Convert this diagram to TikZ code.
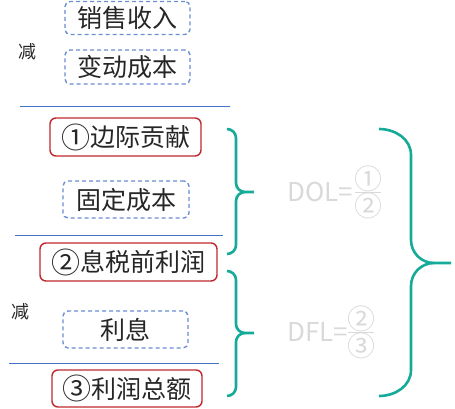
\documentclass[tikz,border=0pt]{standalone}
\usepackage{fontspec}
\setmainfont{Noto Sans CJK SC}
\definecolor{txt}{HTML}{262626}
\definecolor{dblue}{HTML}{6A8ED4}
\definecolor{lblue}{HTML}{4472C4}
\definecolor{rbox}{HTML}{C0282D}
\definecolor{teal}{HTML}{16AA98}
\definecolor{lgray}{HTML}{D9D9D9}
\newcommand\circd[1]{\raisebox{-1.5pt}{\fontsize{29}{29}\selectfont #1}}
\begin{document}
\begin{tikzpicture}[x=1pt,y=-1pt,
  dbox/.style={draw=dblue,dashed,dash pattern=on 4pt off 3pt,line width=1.4pt,rounded corners=5pt,text=txt,font=\fontsize{25}{27}\selectfont,inner sep=0pt},
  rbox/.style={draw=rbox,line width=1.4pt,rounded corners=6pt,text=txt,font=\fontsize{25}{27}\selectfont,inner sep=0pt},
  minus/.style={text=txt,font=\fontsize{18}{20}\selectfont,inner sep=0pt},
  sep/.style={draw=lblue,line width=0.9pt},
  brace/.style={draw=teal,line width=2.6pt},
  formula/.style={text=lgray,font=\fontsize{26}{28}\selectfont,inner sep=0pt},
  circ/.style={text=lgray,font=\fontsize{28}{28}\selectfont,inner sep=0pt,text height=20pt,text depth=0pt}]
\useasboundingbox (0,0) rectangle (455,409);
% left column
\node[dbox,minimum width=125pt,minimum height=33pt] (n1) at (127.5,18) {销售收入};
\node[dbox,minimum width=125pt,minimum height=34pt] (n2) at (127.5,67) {变动成本};
\node[minus] (j1) at (28,52) {减};
\coordinate (l1a) at (20,106); \coordinate (l1b) at (230,106);
\draw[sep] (l1a) -- (l1b);
\node[rbox,minimum width=151pt,minimum height=38pt] (r1) at (125.5,137) {\circd{①}边际贡献};
\node[dbox,minimum width=126pt,minimum height=37pt] (n3) at (126,199.5) {固定成本};
\coordinate (l2a) at (15,235); \coordinate (l2b) at (223,235);
\draw[sep] (l2a) -- (l2b);
\node[rbox,minimum width=177pt,minimum height=38pt] (r2) at (128.5,262) {\circd{②}息税前利润};
\node[minus] (j2) at (20,312) {减};
\node[dbox,minimum width=125pt,minimum height=37pt] (n4) at (125.5,329.5) {利息};
\coordinate (l3a) at (9,363); \coordinate (l3b) at (219,363);
\draw[sep] (l3a) -- (l3b);
\node[rbox,minimum width=150pt,minimum height=37pt] (r3) at (127,388.5) {\circd{③}利润总额};
% braces
\draw[brace] (227,129) to[out=0,in=90] (236,138) -- (236,183) to[out=-90,in=180] (245,192) -- (254,192);
\draw[brace] (245,192) to[out=180,in=90] (236,201) -- (236,245) to[out=-90,in=0] (227,254);
\draw[brace] (227,271) to[out=0,in=90] (236,280) -- (236,324) to[out=-90,in=180] (245,333) -- (254,333);
\draw[brace] (245,333) to[out=180,in=90] (236,342) -- (236,387) to[out=-90,in=0] (227,396);
\draw[brace] (379,129) to[out=0,in=90] (411,155) -- (411,240) to[out=-90,in=180] (434,263) -- (451,263);
\draw[brace] (434,263) to[out=180,in=90] (411,286) -- (411,370) to[out=-90,in=0] (379,396);
% formulas
\node[formula,anchor=west] (dol) at (287,192) {DOL=};
\node[circ] (dolnum) at (368,179) {①};
\node[circ] (dolden) at (368,206) {②};
\draw[lgray,line width=1pt] (355,192) -- (381,192);
\node[formula,anchor=west] (dfl) at (287,332) {DFL=};
\node[circ] (dflnum) at (361,319) {②};
\node[circ] (dflden) at (361,346) {③};
\draw[lgray,line width=1pt] (348,332) -- (374,332);
\end{tikzpicture}
\end{document}
